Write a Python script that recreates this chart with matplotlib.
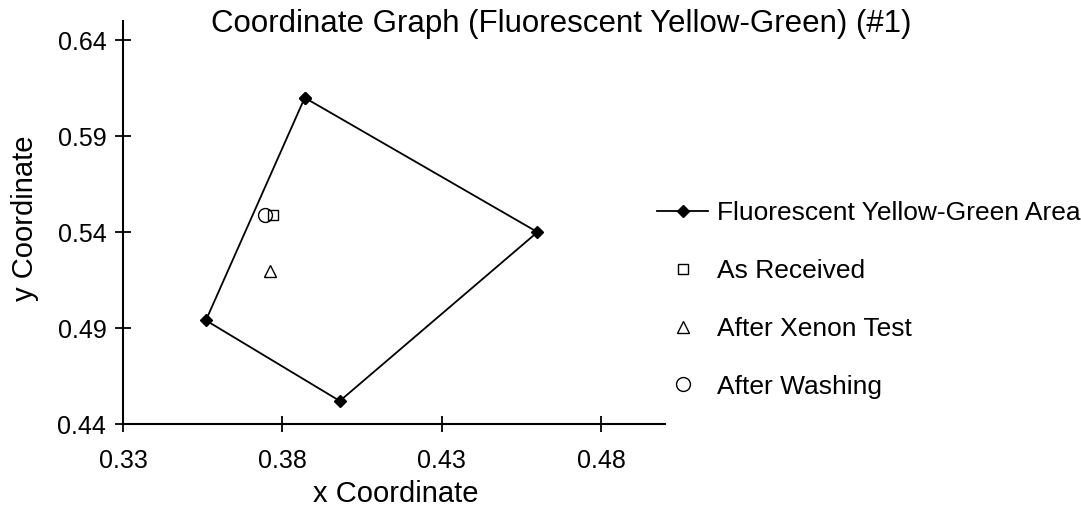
import matplotlib
matplotlib.use("Agg")
import matplotlib.pyplot as plt

plt.rcParams['font.family'] = ['Liberation Sans', 'DejaVu Sans']

# Data
area_x = [0.387, 0.460, 0.398, 0.356, 0.387]
area_y = [0.610, 0.540, 0.452, 0.494, 0.610]
received_x = [0.377]
received_y = [0.549]
xenon_x = [0.376]
xenon_y = [0.5195]
washing_x = [0.3745]
washing_y = [0.549]
xticks = [0.33, 0.38, 0.43, 0.48]
yticks = [0.44, 0.49, 0.54, 0.59, 0.64]

fig = plt.figure(figsize=(10.81, 5.12), dpi=100)
ax = fig.add_axes([123/1081, 1-424/512, (665-123)/1081, (424-21)/512])

ax.plot(area_x, area_y, color='black', lw=1.3, marker='D', ms=6,
        markerfacecolor='black', label='Fluorescent Yellow-Green Area')
ax.plot(received_x, received_y, ls='none', marker='s', ms=7, mfc='none',
        mec='black', mew=1.0, label='As Received')
ax.plot(xenon_x, xenon_y, ls='none', marker='^', ms=8, mfc='none',
        mec='black', mew=1.0, label='After Xenon Test')
ax.plot(washing_x, washing_y, ls='none', marker='o', ms=10, mfc='none',
        mec='black', mew=1.0, label='After Washing')

ax.set_xlim(0.33, 0.50)
ax.set_ylim(0.44, 0.65)
ax.set_xticks(xticks)
ax.set_yticks(yticks)
ax.set_xticklabels([f"{v:.2f}" for v in xticks])
ax.set_yticklabels([f"{v:.2f}" for v in yticks])
for s in ['top', 'right']:
    ax.spines[s].set_visible(False)
for s in ['left', 'bottom']:
    ax.spines[s].set_linewidth(1.5)
ax.tick_params(direction='inout', length=12, width=1.3, labelsize=18)
ax.tick_params(axis='x', pad=12)
ax.tick_params(axis='y', pad=6)

fig.text(396/1081, 1-494/512, 'x Coordinate', ha='center', va='center', fontsize=21)
fig.text(25/1081, 1-218/512, 'y Coordinate', ha='center', va='center',
         rotation=90, fontsize=21)
fig.text(561/1081, 1-24/512, 'Coordinate Graph (Fluorescent Yellow-Green) (#1)',
         ha='center', va='center', fontsize=22.5)

fig.legend(loc='center left', bbox_to_anchor=(657/1081, 1-300/512),
           frameon=False, fontsize=19, numpoints=1, handlelength=1.95,
           handletextpad=0.34, labelspacing=1.28, borderpad=0,
           borderaxespad=0)

fig.savefig('out.png', dpi=100)
